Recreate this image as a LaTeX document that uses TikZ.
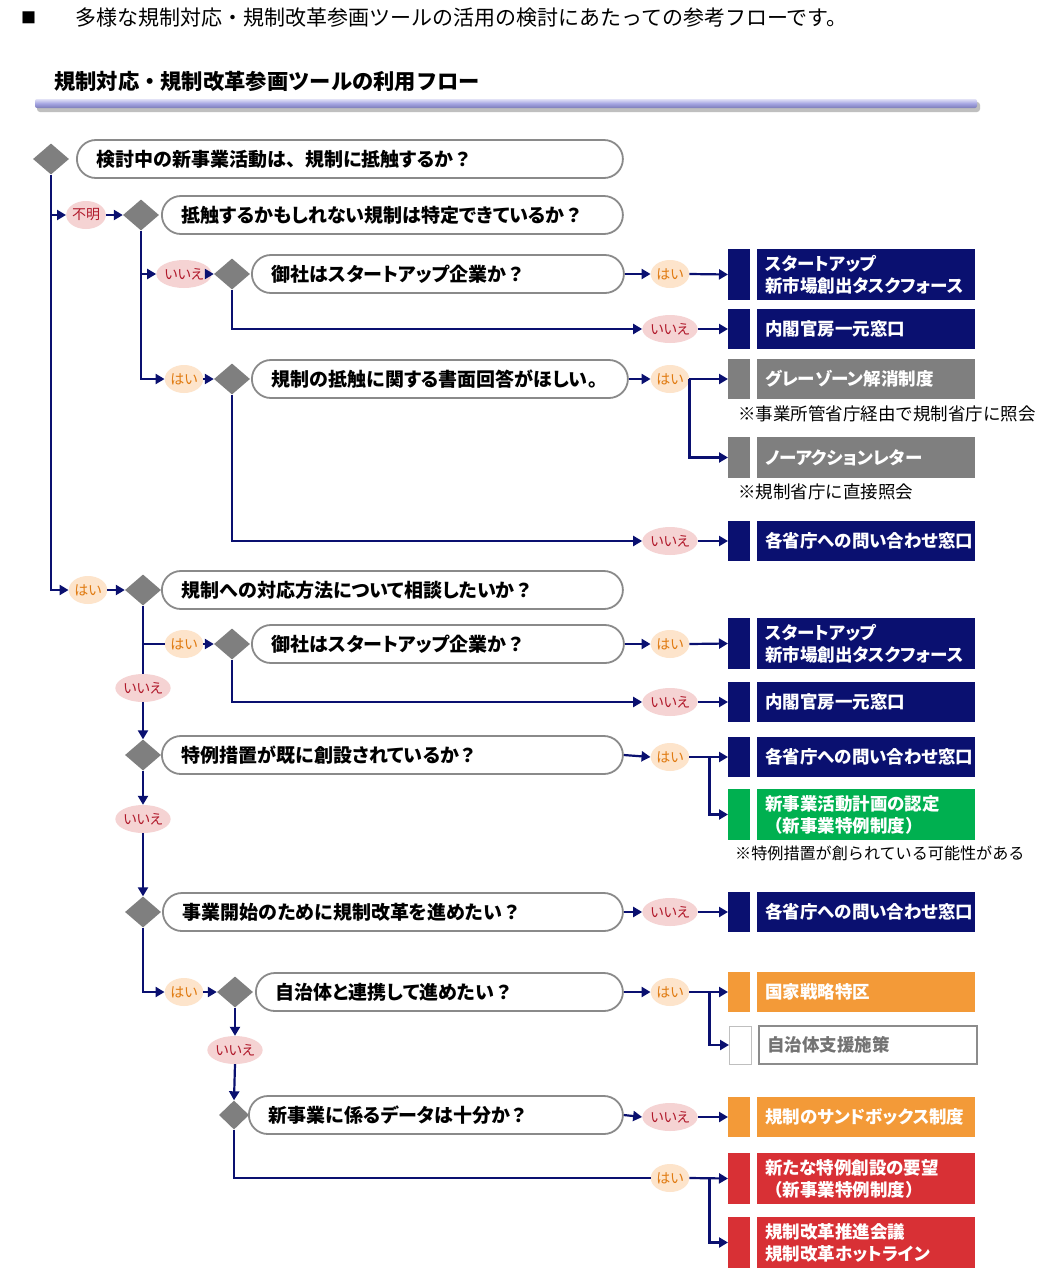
\documentclass[tikz,border=0pt]{standalone}
\usepackage{fontspec}
\setmainfont{Noto Sans CJK JP}
\newfontfamily\pf{Noto Sans CJK JP}[RawFeature=+palt]
\usetikzlibrary{shapes.geometric,arrows.meta}
\definecolor{navy}{HTML}{0A1070}
\definecolor{dgray}{HTML}{7F7F7F}
\definecolor{pillgray}{HTML}{8A8A8A}
\definecolor{grn}{HTML}{00B050}
\definecolor{org}{HTML}{F39A38}
\definecolor{rd}{HTML}{D83035}
\definecolor{iiefill}{HTML}{F5D3D3}
\definecolor{iietext}{HTML}{B0182A}
\definecolor{haifill}{HTML}{FDE4CB}
\definecolor{haitext}{HTML}{E07A10}
\definecolor{barhi}{HTML}{E2E2F6}
\definecolor{barmid}{HTML}{A4A4E2}
\definecolor{barlo}{HTML}{7C7CB8}
\newcommand\qtxt{\pf\fontsize{19}{21}\selectfont\bfseries}
\newcommand\btxt{\pf\fontsize{17.5}{22}\selectfont\bfseries}
\newcommand\fw[1]{{\rmfamily #1}}
\tikzset{
 dia/.style={diamond, fill=dgray, minimum width=36pt, minimum height=31pt, inner sep=0pt},
 pill/.style={draw=pillgray, line width=1.8pt, fill=white, rounded corners=19pt, minimum height=38pt, anchor=west, inner xsep=20pt, inner ysep=0pt, align=left, text width=#1, font=\qtxt},
 lab/.style={ellipse, minimum width=36pt, minimum height=28pt, inner sep=0pt},
 iie/.style={lab, fill=iiefill, text=iietext, font=\pf\fontsize{14}{15}\selectfont},
 hai/.style={lab, fill=haifill, text=haitext, font=\pf\fontsize{14}{15}\selectfont},
 sqb/.style={minimum width=22pt, minimum height=#1, inner sep=0pt, anchor=west},
 obox/.style={minimum width=218pt, minimum height=#1, inner xsep=8pt, inner ysep=0pt, text width=202pt, align=left, anchor=west, text=white, font=\btxt},
 note/.style={anchor=west, inner sep=0pt, font=\fontsize{17.5}{19}\selectfont},
 ln/.style={draw=navy, line width=2.2pt},
 arr/.style={ln, -{Triangle[length=9pt,width=10pt]}},
}
\begin{document}
\begin{tikzpicture}[x=1pt,y=-1pt]
\useasboundingbox[fill=white] (0,0) rectangle (1042,1278);
% header
\node[anchor=west, inner sep=0pt, font=\fontsize{15}{16}\selectfont] (sq0) at (21,18) {■};
\node[anchor=west, inner sep=0pt, font=\fontsize{21}{22}\selectfont] (hdr) at (75,18) {多様な規制対応・規制改革参画ツールの活用の検討にあたっての参考フローです。};
\node[anchor=west, inner sep=0pt, font=\fontsize{21.3}{23}\selectfont\bfseries] (ttl) at (54,81) {規制対応・規制改革参画ツールの利用フロー};
\fill[black!25, rounded corners=3pt] (37,102) rectangle (980,112);
\shade[top color=barhi, bottom color=barlo, middle color=barmid, rounded corners=2pt] (35,99) rectangle (977,108);

% diamonds
\node[dia] (d1) at (51,159) {};
\node[dia] (d2) at (141,215) {};
\node[dia] (d3) at (232,274) {};
\node[dia] (d4) at (232,379) {};
\node[dia] (d5) at (143,590) {};
\node[dia] (d6) at (232,644) {};
\node[dia] (d7) at (143,755) {};
\node[dia] (d8) at (143,912) {};
\node[dia] (d9) at (235,992) {};
\node[dia, minimum width=30pt, minimum height=29pt] (d10) at (234,1115) {};

% questions
\node[pill=506pt] (q1) at (76,159) {検討中の新事業活動は\fw{、}規制に抵触するか\fw{？}};
\node[pill=421pt] (q2) at (161,215) {抵触するかもしれない規制は特定できているか\fw{？}};
\node[pill=332pt] (q3) at (251,274) {御社はスタートアップ企業か\fw{？}};
\node[pill=336pt] (q4) at (251,379) {規制の抵触に関する書面回答がほしい。};
\node[pill=421pt] (q5) at (161,590) {規制への対応方法について相談したいか\fw{？}};
\node[pill=332pt] (q6) at (251,644) {御社はスタートアップ企業か\fw{？}};
\node[pill=421pt] (q7) at (161,755) {特例措置が既に創設されているか\fw{？}};
\node[pill=420pt] (q8) at (162,912) {事業開始のために規制改革を進めたい\fw{？}};
\node[pill=327pt] (q9) at (255,992) {自治体と連携して進めたい\fw{？}};
\node[pill=334pt] (q10) at (248,1115) {新事業に係るデータは十分か\fw{？}};

% left labels
\node[iie] (fm) at (86,215) {不明};
\node[iie] (l3) at (184,274) {いいえ};
\node[hai] (l4) at (184,379) {はい};
\node[hai] (l5) at (88,590) {はい};
\node[hai] (l6) at (184,644) {はい};
\node[iie] (l7) at (143,688) {いいえ};
\node[iie] (l8) at (143,819) {いいえ};
\node[hai] (l9) at (184,992) {はい};
\node[iie] (l10) at (235,1050) {いいえ};

% right labels
\node[hai] (r1) at (670,274) {はい};
\node[iie] (r2) at (670,329) {いいえ};
\node[hai] (r3) at (670,379) {はい};
\node[iie] (r5) at (670,541) {いいえ};
\node[hai] (r6) at (670,644) {はい};
\node[iie] (r7) at (670,702) {いいえ};
\node[hai] (r8) at (670,757) {はい};
\node[iie] (r10) at (670,912) {いいえ};
\node[hai] (r11) at (670,992) {はい};
\node[iie] (r13) at (670,1117) {いいえ};
\node[hai] (r14) at (670,1178) {はい};

% output boxes
\node[sqb=51pt, fill=navy] (s1) at (728,274.5) {};
\node[obox=51pt, fill=navy] (b1) at (757,274.5) {スタートアップ\\新市場創出タスクフォース};
\node[sqb=40pt, fill=navy] (s2) at (728,329) {};
\node[obox=40pt, fill=navy] (b2) at (757,329) {内閣官房一元窓口};
\node[sqb=40pt, fill=dgray] (s3) at (728,379) {};
\node[obox=40pt, fill=dgray] (b3) at (757,379) {グレーゾーン解消制度};
\node[note] (n1) at (738,414) {※事業所管省庁経由で規制省庁に照会};
\node[sqb=41pt, fill=dgray] (s4) at (728,457.5) {};
\node[obox=41pt, fill=dgray] (b4) at (757,457.5) {ノーアクションレター};
\node[note] (n2) at (738,492) {※規制省庁に直接照会};
\node[sqb=40pt, fill=navy] (s5) at (728,541) {};
\node[obox=40pt, fill=navy] (b5) at (757,541) {各省庁への問い合わせ窓口};
\node[sqb=51pt, fill=navy] (s6) at (728,643.5) {};
\node[obox=51pt, fill=navy] (b6) at (757,643.5) {スタートアップ\\新市場創出タスクフォース};
\node[sqb=40pt, fill=navy] (s7) at (728,702) {};
\node[obox=40pt, fill=navy] (b7) at (757,702) {内閣官房一元窓口};
\node[sqb=40pt, fill=navy] (s8) at (728,757) {};
\node[obox=40pt, fill=navy] (b8) at (757,757) {各省庁への問い合わせ窓口};
\node[sqb=51pt, fill=grn] (s9) at (728,814.5) {};
\node[obox=51pt, fill=grn] (b9) at (757,814.5) {新事業活動計画の認定\\\fw{（}新事業特例制度\fw{）}};
\node[note, font=\fontsize{16.1}{18}\selectfont] (n3) at (735,853) {※特例措置が創られている可能性がある};
\node[sqb=40pt, fill=navy] (s10) at (728,912) {};
\node[obox=40pt, fill=navy] (b10) at (757,912) {各省庁への問い合わせ窓口};
\node[sqb=40pt, fill=org] (s11) at (728,992) {};
\node[obox=40pt, fill=org] (b11) at (757,992) {国家戦略特区};
\node[sqb=38pt, fill=white, draw=black!25, line width=1pt] (s12) at (729,1045) {};
\node[obox=38pt, fill=white, draw=black!45, line width=2pt, text=black!55] (b12) at (758,1045) {自治体支援施策};
\node[sqb=40pt, fill=org] (s13) at (728,1117) {};
\node[obox=40pt, fill=org] (b13) at (757,1117) {規制のサンドボックス制度};
\node[sqb=51pt, fill=rd] (s14) at (728,1178.5) {};
\node[obox=51pt, fill=rd] (b14) at (757,1178.5) {新たな特例創設の要望\\\fw{（}新事業特例制度\fw{）}};
\node[sqb=51pt, fill=rd] (s15) at (728,1242.5) {};
\node[obox=51pt, fill=rd] (b15) at (757,1242.5) {規制改革推進会議\\規制改革ホットライン};

% connectors, left trunk
\draw[arr] (d1.south) |- (l5.west);
\draw[arr] (l5.east) -- (d5.west);
\draw[arr] (d1.south |- fm.west) -- (fm.west);
\draw[arr] (fm.east) -- (d2.west);
\draw[arr] (d2.south) |- (l4.west);
\draw[arr] (d2.south |- l3.west) -- (l3.west);
\draw[arr] (l3.east) -- (d3.west);
\draw[arr] (l4.east) -- (d4.west);
% startup branch 1
\draw[arr] (q3.east) -- (r1.west);
\draw[arr] (r1.east) -- (s1.west);
\draw[arr] (d3.south) |- (r2.west);
\draw[arr] (r2.east) -- (s2.west);
% written answer
\draw[arr] (q4.east) -- (r3.west);
\draw[arr] (r3.east) -- (s3.west);
\draw[arr] (r3.east) |- (s4.west);
\draw[arr] (d4.south) |- (r5.west);
\draw[arr] (r5.east) -- (s5.west);
% consultation
\draw[ln] (d5.south |- l6.west) -- (l6.west);
\draw[arr] (l6.east) -- (d6.west);
\draw[arr] (q6.east) -- (r6.west);
\draw[arr] (r6.east) -- (s6.west);
\draw[arr] (d6.south) |- (r7.west);
\draw[arr] (r7.east) -- (s7.west);
\draw[ln] (d5.south) -- (l7.north);
\draw[arr] (l7.south) -- (d7.north);
% special measures
\draw[arr] (q7.east) -- (r8.west);
\draw[arr] (r8.east) -- (s8.west);
\draw[arr] ([xshift=20pt]r8.east) |- (s9.west);
\draw[arr] (d7.south) -- (l8.north);
\draw[arr] (l8.south) -- (d8.north);
% reform
\draw[arr] (q8.east) -- (r10.west);
\draw[arr] (r10.east) -- (s10.west);
\draw[arr] (d8.south) |- (l9.west);
\draw[arr] (l9.east) -- (d9.west);
\draw[arr] (q9.east) -- (r11.west);
\draw[arr] (r11.east) -- (s11.west);
\draw[arr] ([xshift=20pt]r11.east) |- (s12.west);
\draw[arr] (d9.south) -- (l10.north);
\draw[arr] (l10.south) -- (d10.north);
\draw[arr] (q10.east) -- (r13.west);
\draw[arr] (r13.east) -- (s13.west);
\draw[ln] (d10.south) |- (r14.west);
\draw[arr] (r14.east) -- (s14.west);
\draw[arr] ([xshift=20pt]r14.east) |- (s15.west);
\end{tikzpicture}
\end{document}
